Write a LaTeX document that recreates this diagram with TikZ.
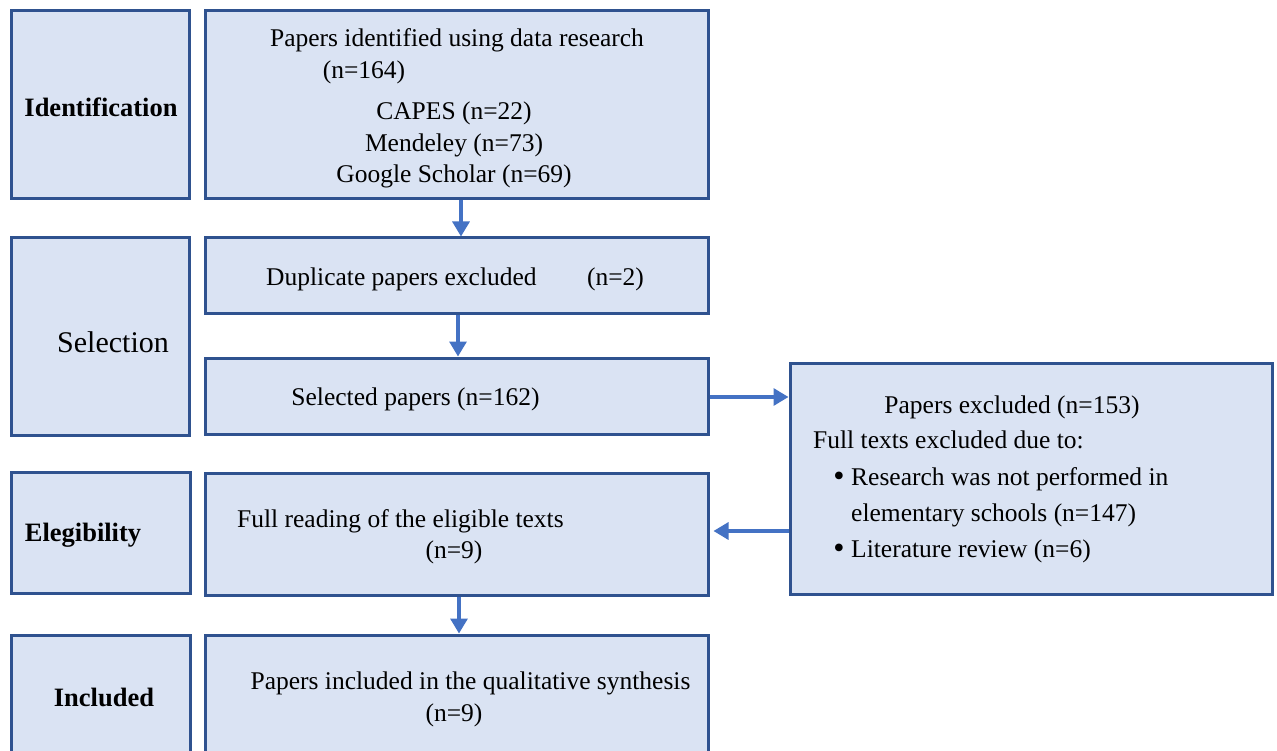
\documentclass[tikz,border=0pt]{standalone}
\usepackage{fontspec}
\setmainfont{Liberation Serif}
\usetikzlibrary{arrows.meta}
\definecolor{boxfill}{HTML}{DAE3F3}
\definecolor{boxline}{HTML}{2F528F}
\definecolor{arrcol}{HTML}{4472C4}
\tikzset{
  box/.style={draw=boxline, fill=boxfill, line width=3pt, inner sep=0pt, rectangle},
  txt/.style={inner sep=0pt, font=\fontsize{25.5}{30}\selectfont},
  lbl/.style={inner sep=0pt, font=\fontsize{26.5}{31}\selectfont\bfseries},
  bul/.style={inner sep=0pt, font=\fontsize{32}{34}\selectfont},
  arr/.style={draw=arrcol, line width=3.2pt, -{Triangle[length=15pt,width=17pt]}}
}
\begin{document}
\begin{tikzpicture}[x=1pt,y=-1pt]
\clip (0,0) rectangle (1277,751);
\fill[white] (0,0) rectangle (1277,751);
% left label boxes
\node[box, minimum width=178pt, minimum height=188pt] (lid) at (100,105) {};
\node[box, minimum width=178pt, minimum height=197pt] (lsel) at (100,336.5) {};
\node[box, minimum width=179pt, minimum height=121pt] (lel) at (100.5,532.5) {};
\node[box, minimum width=179pt, minimum height=140pt] (lin) at (100.5,705) {};
% main boxes
\node[box, minimum width=503pt, minimum height=188pt] (ident) at (456.5,105) {};
\node[box, minimum width=503pt, minimum height=76pt] (dup) at (456.5,276) {};
\node[box, minimum width=503pt, minimum height=76pt] (sel) at (456.5,396) {};
\node[box, minimum width=503pt, minimum height=122pt] (full) at (456.5,534) {};
\node[box, minimum width=503pt, minimum height=140pt] (incl) at (456.5,705) {};
\node[box, minimum width=482pt, minimum height=231pt] (excl) at (1031,478.5) {};
% labels
\node[lbl] (tid) at (101,107) {Identification};
\node[txt, font=\fontsize{30}{34}\selectfont] (tsel) at (113,342) {Selection};
\node[lbl] (tel) at (83,535) {Elegibility};
\node[lbl] (tin) at (104,697) {Included};
% identification text
\node[txt] (t1) at (457,40) {Papers identified using data research};
\node[txt] (t2) at (364,72) {(n=164)};
\node[txt] (t3) at (454,113) {CAPES (n=22)};
\node[txt] (t4) at (454,145) {Mendeley (n=73)};
\node[txt] (t5) at (454,176) {Google Scholar (n=69)};
% selection texts
\node[txt, anchor=west] (t6) at (266,279) {Duplicate papers excluded};
\node[txt] (t7) at (615.5,279) {(n=2)};
\node[txt] (t8) at (415.5,399) {Selected papers (n=162)};
% excluded texts
\node[txt] (t9) at (1012,407) {Papers excluded (n=153)};
\node[txt, anchor=west] (t10) at (813,440) {Full texts excluded due to:};
\node[bul] (b1) at (839,479) {\textbullet};
\node[txt, anchor=west] (t11) at (851,479) {Research was not performed in};
\node[txt, anchor=west] (t12) at (851,515) {elementary schools (n=147)};
\node[bul] (b2) at (839,551) {\textbullet};
\node[txt, anchor=west] (t13) at (851,551) {Literature review (n=6)};
% eligibility texts
\node[txt, anchor=west] (t14) at (237,521) {Full reading of the eligible texts};
\node[txt] (t15) at (454,552) {(n=9)};
% included texts
\node[txt] (t16) at (470.5,683) {Papers included in the qualitative synthesis};
\node[txt] (t17) at (454,715) {(n=9)};
% arrows
\draw[arr] ([xshift=4.5pt]ident.south) -- ([xshift=4.5pt]ident.south |- dup.north);
\draw[arr] ([xshift=1.5pt]dup.south) -- ([xshift=1.5pt]dup.south |- sel.north);
\draw[arr] ([xshift=2.5pt]full.south) -- ([xshift=2.5pt]full.south |- incl.north);
\draw[arr] ([yshift=-1pt]sel.east) -- ([yshift=-1pt]excl.west |- sel.east);
\draw[arr, shorten >=4pt] ([yshift=3pt]excl.west |- full.east) -- ([yshift=3pt]full.east);
\end{tikzpicture}
\end{document}
